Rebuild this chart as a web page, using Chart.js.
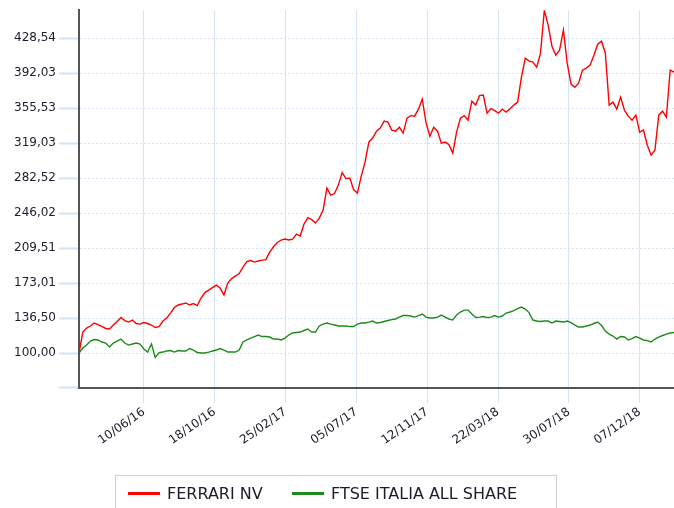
<!DOCTYPE html>
<html lang="en">
<head>
    <meta charset="UTF-8">
    <title>Ferrari NV vs FTSE Italia All Share</title>
    <script src="https://cdn.jsdelivr.net/npm/chart.js"></script>
    <style>
        html, body { margin: 0; padding: 0; background: #fff; overflow: hidden; }
        #wrap { position: relative; width: 674px; height: 508px; }
        #legend {
            position: absolute; left: 115px; top: 475px; width: 442px; height: 50px;
            border: 1px solid #d0d0d0; box-sizing: border-box;
            font-family: "DejaVu Sans", Verdana, sans-serif; font-size: 16px; color: #1c1c2c;
        }
        .item { position: absolute; top: 8px; white-space: nowrap; }
        .swatch { display: inline-block; width: 32px; height: 3px; vertical-align: middle; margin-right: 7px; position: relative; top: -1px; }
    </style>
</head>
<body>
<div id="wrap">
    <canvas id="chart" width="674" height="508"></canvas>
    <div id="legend">
        <span class="item" style="left:12px"><span class="swatch" style="background:#ff0000"></span>FERRARI NV</span>
        <span class="item" style="left:176px"><span class="swatch" style="background:#1e8a1e"></span>FTSE ITALIA ALL SHARE</span>
    </div>
</div>
<script>
    // weekly closes, rebased to 100 on 12/02/16
    const startDate = Date.UTC(2016, 1, 12);

    const ferrari = [100.0, 121.9, 126.1, 128.2, 131.3, 129.7, 127.8, 125.6, 125.0, 129.2,
        132.9, 137.0, 133.9, 132.3, 134.4, 130.8, 130.2, 131.8, 130.8, 129.2,
        126.6, 127.6, 133.4, 136.5, 141.7, 147.5, 150.1, 151.1, 152.2, 150.1,
        151.6, 149.5, 157.4, 163.1, 165.7, 168.3, 170.9, 167.8, 160.5, 173.0,
        177.7, 180.3, 182.9, 189.7, 195.4, 196.5, 194.9, 196.0, 197.0, 197.5,
        205.3, 210.9, 215.3, 217.9, 218.9, 217.9, 218.9, 224.1, 222.1, 234.5,
        241.3, 239.2, 235.6, 240.8, 249.1, 272.1, 264.8, 266.4, 275.2, 288.3,
        282.0, 282.5, 270.5, 266.9, 284.6, 299.2, 320.1, 324.3, 331.5, 334.7,
        342.0, 340.9, 332.6, 331.5, 335.7, 329.5, 345.1, 347.7, 347.2, 354.5,
        364.9, 339.9, 326.3, 335.7, 331.5, 319.0, 320.1, 317.4, 308.6, 330.5,
        345.1, 347.7, 343.0, 362.8, 358.7, 368.6, 369.1, 350.3, 355.0, 352.9,
        350.3, 354.5, 351.4, 355.0, 358.7, 361.8, 387.9, 407.7, 404.6, 403.5,
        398.3, 412.9, 457.5, 442.1, 420.2, 410.8, 416.0, 436.9, 402.5, 380.6,
        377.4, 381.6, 395.2, 397.3, 400.4, 410.8, 422.3, 425.4, 412.9, 358.7,
        361.8, 354.5, 367.0, 353.4, 347.2, 343.0, 348.2, 330.5, 332.6, 316.9,
        306.5, 311.7, 348.2, 352.4, 346.1, 395.2, 393.1];

    const ftse = [100.0, 105.2, 108.3, 112.5, 114.1, 113.6, 111.5, 110.4, 106.3, 110.4,
        112.5, 114.6, 110.4, 108.3, 109.4, 110.4, 109.4, 104.2, 101.0, 109.4,
        95.3, 100.5, 101.0, 102.1, 102.6, 101.0, 102.6, 102.1, 102.1, 104.7,
        103.1, 100.5, 100.0, 100.0, 101.0, 102.1, 103.1, 104.7, 103.1, 101.0,
        101.0, 101.0, 103.1, 111.5, 113.6, 115.6, 117.2, 118.8, 117.2, 117.2,
        116.7, 114.6, 114.6, 113.6, 115.6, 118.8, 120.9, 121.4, 121.9, 123.5,
        125.0, 121.9, 121.9, 128.2, 130.2, 131.3, 130.2, 129.2, 128.2, 128.2,
        128.2, 127.6, 127.6, 130.2, 131.3, 131.3, 132.3, 133.4, 131.3, 131.8,
        132.9, 133.9, 134.9, 135.5, 137.5, 139.1, 139.1, 138.6, 137.5, 139.1,
        140.7, 137.5, 136.5, 136.5, 137.5, 139.6, 137.5, 135.5, 134.4, 139.6,
        142.8, 144.8, 144.8, 140.7, 137.0, 137.5, 138.1, 137.0, 137.5, 139.1,
        137.5, 138.6, 141.7, 142.8, 144.3, 146.4, 148.0, 145.9, 142.2, 134.4,
        133.4, 132.9, 133.4, 133.4, 131.3, 133.4, 132.9, 132.3, 133.4, 131.8,
        129.2, 127.1, 127.1, 128.2, 129.2, 130.8, 132.3, 128.7, 122.9, 119.8,
        117.7, 114.6, 117.2, 116.7, 113.6, 115.1, 117.2, 115.6, 113.6, 113.0,
        111.5, 114.6, 116.7, 118.3, 119.8, 120.9, 121.4];

    const xTickLabels = ['10/06/16', '18/10/16', '25/02/17', '05/07/17', '12/11/17', '22/03/18', '30/07/18', '07/12/18'];
    const yTickValues = [63.50, 100.00, 136.50, 173.01, 209.51, 246.02, 282.52, 319.03, 355.53, 392.03, 428.54];

    const DAY = 86400000;
    function dayOf(label) {
        const [d, m, y] = label.split('/').map(Number);
        return Math.round((Date.UTC(2000 + y, m - 1, d) - startDate) / DAY);
    }
    const xTickDays = xTickLabels.map(dayOf);
    const weekDay = i => i * 7;

    const gridBlue = '#d3e4f7';
    const font = { family: '"DejaVu Sans", Verdana, sans-serif', size: 12 };

    new Chart(document.getElementById('chart'), {
        type: 'line',
        data: {
            datasets: [
                { label: 'FERRARI NV', data: ferrari.map((v, i) => ({ x: weekDay(i), y: v })),
                  borderColor: '#ff0000', borderWidth: 1.4, pointRadius: 0, tension: 0 },
                { label: 'FTSE ITALIA ALL SHARE', data: ftse.map((v, i) => ({ x: weekDay(i), y: v })),
                  borderColor: '#1e8a1e', borderWidth: 1.4, pointRadius: 0, tension: 0 }
            ]
        },
        options: {
            responsive: false,
            animation: false,
            layout: { padding: { top: 10, right: 0, left: 0, bottom: 0 } },
            plugins: { legend: { display: false }, tooltip: { enabled: false } },
            scales: {
                x: {
                    type: 'linear',
                    min: 0,
                    max: weekDay(ferrari.length - 1),
                    afterBuildTicks: s => { s.ticks = xTickDays.map(v => ({ value: v })); },
                    afterFit: s => { s.height = 120; },
                    ticks: {
                        autoSkip: false, maxRotation: 35, minRotation: 35, padding: 2,
                        color: '#1c1c2c', font: font,
                        callback: v => xTickLabels[xTickDays.indexOf(v)] || ''
                    },
                    grid: { color: gridBlue, lineWidth: 1, tickLength: 15, tickColor: gridBlue },
                    border: { display: true, color: '#555', width: 2 }
                },
                y: {
                    min: 63.496,
                    max: 457.74,
                    afterBuildTicks: s => { s.ticks = yTickValues.map(v => ({ value: v })); },
                    afterFit: s => { s.width = 79; },
                    ticks: {
                        padding: 3, color: '#1c1c2c', font: font,
                        callback: (v, i) => i === 0 ? '' : v.toFixed(2).replace('.', ',')
                    },
                    grid: { color: gridBlue, lineWidth: 1, tickLength: 20, tickColor: gridBlue, tickWidth: 2, tickBorderDash: [] },
                    border: { display: true, color: '#555', width: 2, dash: [2, 2] }
                }
            }
        }
    });
</script>
</body>
</html>
